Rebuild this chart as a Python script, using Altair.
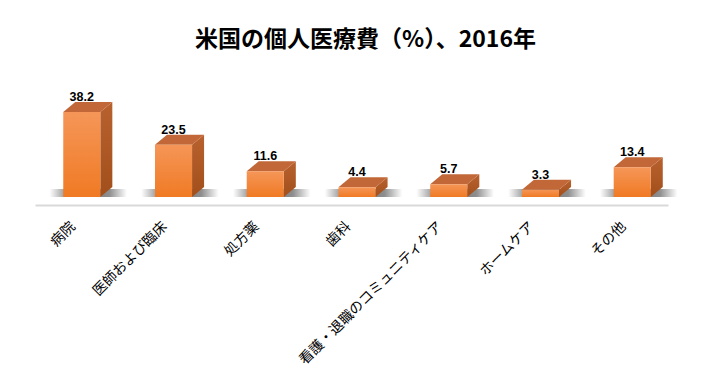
import json
import altair as alt
import pandas as pd

# ---- data ----
categories = ["病院", "医師および臨床", "処方薬", "歯科", "看護・退職のコミュニティケア", "ホームケア", "その他"]
values = [38.2, 23.5, 11.6, 4.4, 5.7, 3.3, 13.4]
title_text = "米国の個人医療費（%）、2016年"

# ---- geometry helpers (style, in scale units) ----
HW = 0.202   # half width of front face (x units)
DX = 0.131   # depth offset x (x units)
DY = 4.5     # depth offset y (value units)

front = pd.DataFrame({
    "i": list(range(len(values))),
    "v": values,
})
front["x1"] = front["i"] - HW
front["x2"] = front["i"] + HW
front["y0"] = 0.0
front["ytop"] = front["v"] + DY
front["label"] = [f"{v:.1f}" for v in values]
front["sx1"] = front["i"] - HW - 0.15
front["sx2"] = front["i"] + HW + DX + 0.16
front["sy1"] = 0.0
front["sy2"] = 3.6

side_rows, top_rows = [], []
for i, v in enumerate(values):
    side_rows.append({"bar": i, "x": i + HW, "lo": 0.0, "hi": v})
    side_rows.append({"bar": i, "x": i + HW + DX, "lo": DY, "hi": v + DY})
    top_rows.append({"bar": i, "x": i - HW, "lo": v, "hi": v})
    top_rows.append({"bar": i, "x": i - HW + DX, "lo": v, "hi": v + DY})
    top_rows.append({"bar": i, "x": i + HW, "lo": v, "hi": v + DY})
    top_rows.append({"bar": i, "x": i + HW + DX, "lo": v + DY, "hi": v + DY})
side = pd.DataFrame(side_rows)
top = pd.DataFrame(top_rows)

xscale = alt.Scale(domain=[-0.51, 6.39], nice=False, zero=False)
yscale = alt.Scale(domain=[0, 45], nice=False)

label_expr = json.dumps(categories, ensure_ascii=False) + "[datum.value]"

xaxis = alt.Axis(
    values=list(range(len(categories))),
    labelExpr=label_expr,
    title=None,
    grid=False,
    ticks=False,
    domainColor="#d9d9d9",
    domainWidth=2,
    offset=8,
    labelAngle=-45,
    labelAlign="right",
    labelBaseline="middle",
    labelPadding=19,
    labelOffset=-9,
    labelFont="Noto Sans CJK JP",
    labelFontSize=14,
    labelColor="#000000",
    labelOverlap=False,
    labelBound=False,
    labelFlush=False,
    labelLimit=0,
)

shadow = alt.Chart(front).mark_rect(
    opacity=0.7,
    color=alt.Gradient(
        gradient="radial", x1=0.5, y1=0.5, x2=0.5, y2=0.5, r1=0, r2=0.5,
        stops=[
            alt.GradientStop(offset=0, color="#3a3a3a"),
            alt.GradientStop(offset=0.55, color="#5e5e5e"),
            alt.GradientStop(offset=0.82, color="#c0c0c0"),
            alt.GradientStop(offset=1, color="#ffffff"),
        ],
    ),
).encode(
    x=alt.X("sx1:Q", scale=xscale, axis=xaxis),
    x2="sx2:Q",
    y=alt.Y("sy1:Q", scale=yscale, axis=None),
    y2="sy2:Q",
)

side_face = alt.Chart(side).mark_area(
    color=alt.Gradient(
        gradient="linear", x1=0, x2=0, y1=0, y2=1,
        stops=[
            alt.GradientStop(offset=0, color="#b8612e"),
            alt.GradientStop(offset=1, color="#a24f1c"),
        ],
    ),
).encode(
    x=alt.X("x:Q", scale=xscale, axis=xaxis),
    y=alt.Y("lo:Q", scale=yscale, axis=None, stack=None),
    y2="hi:Q",
    detail="bar:N",
)

top_face = alt.Chart(top).mark_area(color="#c26838").encode(
    x=alt.X("x:Q", scale=xscale, axis=xaxis),
    y=alt.Y("lo:Q", scale=yscale, axis=None, stack=None),
    y2="hi:Q",
    detail="bar:N",
)

front_face = alt.Chart(front).mark_rect(
    color=alt.Gradient(
        gradient="linear", x1=0, x2=0, y1=0, y2=1,
        stops=[
            alt.GradientStop(offset=0, color="#f59658"),
            alt.GradientStop(offset=1, color="#f07a24"),
        ],
    ),
).encode(
    x=alt.X("x1:Q", scale=xscale, axis=xaxis),
    x2="x2:Q",
    y=alt.Y("y0:Q", scale=yscale, axis=None),
    y2="v:Q",
)

labels = alt.Chart(front).mark_text(
    font="Liberation Sans",
    fontSize=12.5,
    fontWeight="bold",
    color="#000000",
    baseline="alphabetic",
    dy=-1,
).encode(
    x=alt.X("i:Q", scale=xscale, axis=xaxis),
    y=alt.Y("ytop:Q", scale=yscale, axis=None),
    text="label:N",
)

chart = alt.layer(shadow, side_face, top_face, front_face, labels).properties(
    width=633,
    height=100,
    padding={"left": 27, "top": 89, "right": 27, "bottom": 180},
    autosize=alt.AutoSizeParams(type="none"),
    background="#ffffff",
    title=alt.TitleParams(
        text=title_text,
        font="Noto Sans CJK JP",
        fontSize=23,
        fontWeight="bold",
        color="#000000",
        anchor="middle",
        dx=14,
        offset=39,
    ),
).configure_view(strokeWidth=0, stroke="transparent")

chart.save("out.html", embed_options={"renderer": "svg", "actions": False})
